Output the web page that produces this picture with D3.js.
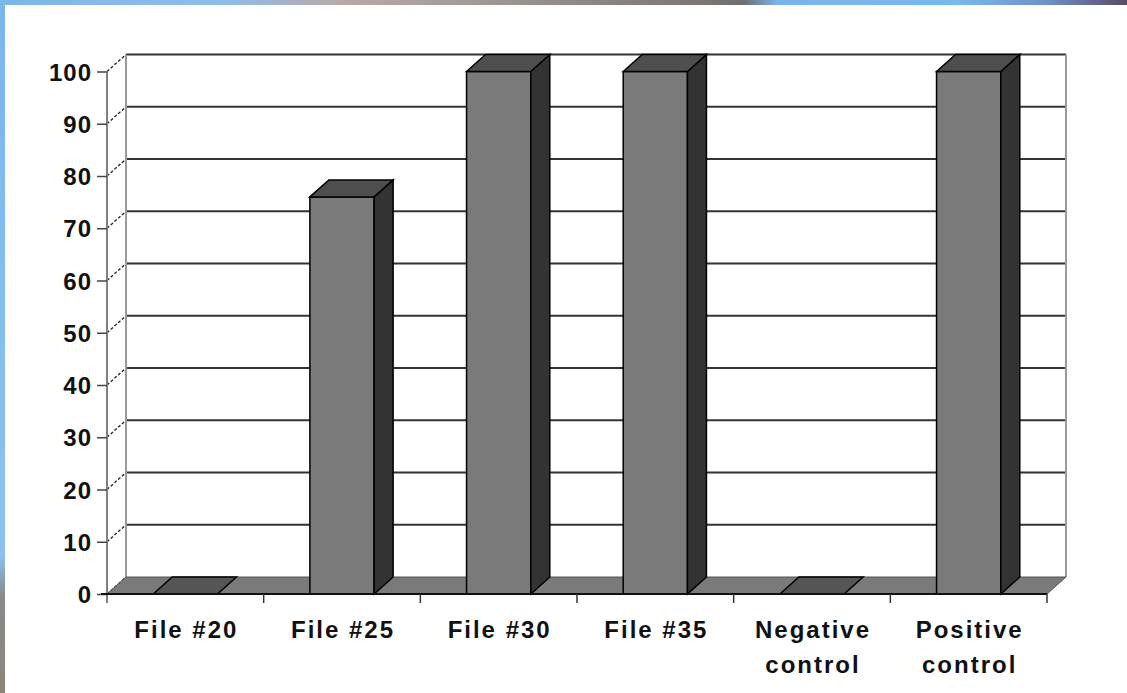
<!DOCTYPE html>
<html>
<head>
<meta charset="utf-8">
<script src="https://cdn.jsdelivr.net/npm/d3@7"></script>
<style>
  html, body { margin: 0; padding: 0; background: #fff; }
  svg { display: block; }
  text { font-family: "Liberation Sans", Arial, sans-serif; font-weight: bold; fill: #111; }
</style>
</head>
<body>
<svg id="chart" width="1127" height="693"></svg>
<script>
// Chart data
const categories = ["File #20", "File #25", "File #30", "File #35", "Negative control", "Positive control"];
const categoryLines = [["File #20"], ["File #25"], ["File #30"], ["File #35"], ["Negative", "control"], ["Positive", "control"]];
const values = [0, 76, 100, 100, 0, 100];
const yTicks = [0, 10, 20, 30, 40, 50, 60, 70, 80, 90, 100];

const W = 1127, H = 693;
const svg = d3.select("#chart");

// Slide frame: thin coloured strips along the top and left edges
const defs = svg.append("defs");
const topGrad = defs.append("linearGradient").attr("id", "topStrip")
  .attr("x1", 0).attr("x2", 1).attr("y1", 0).attr("y2", 0);
[[0, "#7db6ea"], [0.2, "#8fbde8"], [0.3, "#b9a9a9"], [0.4, "#a59d99"], [0.55, "#8a837c"],
 [0.62, "#7e766f"], [0.66, "#6d7070"], [0.69, "#7ab4ec"], [0.85, "#7ab8ee"], [0.93, "#6e90c8"], [1, "#5a4a66"]]
  .forEach(([o, c]) => topGrad.append("stop").attr("offset", o).attr("stop-color", c));
const leftGrad = defs.append("linearGradient").attr("id", "leftStrip")
  .attr("x1", 0).attr("x2", 0).attr("y1", 0).attr("y2", 1);
[[0, "#7db6ea"], [0.8, "#8cc2f2"], [0.86, "#8a8a8a"], [1, "#8c8478"]]
  .forEach(([o, c]) => leftGrad.append("stop").attr("offset", o).attr("stop-color", c));
svg.append("rect").attr("x", 0).attr("y", 0).attr("width", W).attr("height", 5).attr("fill", "url(#topStrip)");
svg.append("rect").attr("x", 0).attr("y", 0).attr("width", 5).attr("height", H).attr("fill", "url(#leftStrip)");

// Plot geometry (front plane) and 3-D depth offset
const x0 = 107, x1 = 1047;
const depthX = 19, depthY = -17;

const x = d3.scaleBand().domain(categories).range([x0, x1]).padding(0);
const y = d3.scaleLinear().domain([0, 100]).range([594, 71.5]);
const barW = x.bandwidth() * 0.41;

const g = svg.append("g");

// Back wall gridlines and their diagonal links to the front axis
yTicks.forEach(t => {
  const yy = y(t);
  g.append("line")
    .attr("x1", x0).attr("y1", yy).attr("x2", x0 + depthX).attr("y2", yy + depthY)
    .attr("stroke", "#222").attr("stroke-width", 1.3).attr("stroke-dasharray", "3,2");
  if (t > 0) {
    g.append("line")
      .attr("x1", x0 + depthX).attr("y1", yy + depthY)
      .attr("x2", x1 + depthX).attr("y2", yy + depthY)
      .attr("stroke", "#333").attr("stroke-width", 2);
  }
});

// Side edges of the back wall
[x0 + depthX, x1 + depthX].forEach(xx => {
  g.append("line")
    .attr("x1", xx).attr("y1", y(100) + depthY).attr("x2", xx).attr("y2", y(0) + depthY)
    .attr("stroke", "#9a9a9a").attr("stroke-width", 2);
});

// Floor
g.append("polygon")
  .attr("points", [[x0, y(0)], [x1, y(0)], [x1 + depthX, y(0) + depthY], [x0 + depthX, y(0) + depthY]].join(" "))
  .attr("fill", "#7a7a7a").attr("stroke", "#555").attr("stroke-width", 1);

// Front value axis
g.append("line")
  .attr("x1", x0).attr("y1", y(100)).attr("x2", x0).attr("y2", y(0) + 9)
  .attr("stroke", "#808080").attr("stroke-width", 2);

const yAxis = d3.axisLeft(y).tickValues(yTicks).tickSize(10).tickPadding(6).tickFormat(d3.format("d"));
const yg = g.append("g").attr("transform", `translate(${x0},0)`).call(yAxis);
yg.select(".domain").remove();
yg.selectAll(".tick line").attr("stroke", "#444").attr("stroke-width", 1.5);
yg.selectAll(".tick text")
  .attr("font-size", 24).attr("fill", "#000")
  .attr("font-family", "'Liberation Sans', Arial, sans-serif").attr("font-weight", "bold")
  .attr("letter-spacing", "1px").attr("dx", "1px").attr("dy", "0.36em");

// Bars
const bars = g.selectAll(".bar").data(categories.map((c, i) => ({ c, v: values[i] })))
  .enter().append("g").attr("class", "bar");

bars.each(function (d) {
  const sel = d3.select(this);
  const left = x(d.c) + (x.bandwidth() - barW) / 2;
  const right = left + barW;
  const top = y(d.v), base = y(0);
  if (d.v > 0) {
    sel.append("rect")
      .attr("x", left).attr("y", top).attr("width", barW).attr("height", base - top)
      .attr("fill", "#7a7a7a").attr("stroke", "#000").attr("stroke-width", 1.5);
    sel.append("polygon")
      .attr("points", [[right, top], [right + depthX, top + depthY], [right + depthX, base + depthY], [right, base]].join(" "))
      .attr("fill", "#333").attr("stroke", "#000").attr("stroke-width", 1.5);
  }
  sel.append("polygon")
    .attr("points", [[left, top], [left + depthX, top + depthY], [right + depthX, top + depthY], [right, top]].join(" "))
    .attr("fill", d.v > 0 ? "#4e4e4e" : "#555").attr("stroke", "#000").attr("stroke-width", 1.5);
});

// Front category axis
g.append("line")
  .attr("x1", x0 - 6).attr("y1", y(0)).attr("x2", x1).attr("y2", y(0))
  .attr("stroke", "#111").attr("stroke-width", 2);
const boundaries = categories.map(c => x(c) + x.bandwidth());
boundaries.forEach(bx => {
  g.append("line")
    .attr("x1", bx).attr("y1", y(0)).attr("x2", bx).attr("y2", y(0) + 9)
    .attr("stroke", "#333").attr("stroke-width", 1.5);
});

// Category labels
categories.forEach((c, i) => {
  const cx = x(c) + x.bandwidth() / 2 + 1;
  const t = g.append("text")
    .attr("text-anchor", "middle").attr("font-size", 24).attr("letter-spacing", "2px").attr("fill", "#000");
  categoryLines[i].forEach((line, j) => {
    t.append("tspan").attr("x", cx).attr("y", 638 + j * 35).text(line);
  });
});
</script>
</body>
</html>
